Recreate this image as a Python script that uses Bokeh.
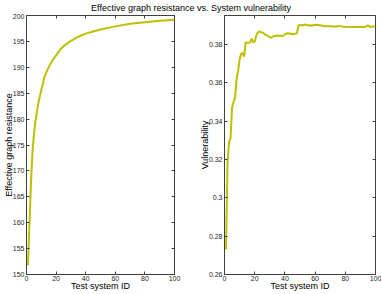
from bokeh.plotting import figure
from bokeh.models import (Range1d, FixedTicker, LinearAxis, CustomJSTickFormatter,
                          CustomLabelingPolicy)
from bokeh.layouts import column, row
from bokeh.embed import file_html
from bokeh.resources import INLINE

title_text = "Effective graph resistance vs. System vulnerability"
x_label = "Test system ID"
left_ylabel = "Effective graph resistance"
right_ylabel = "Vulnerability"

# Effective graph resistance per test system
res_ids = [1, 2, 3, 4, 5, 6, 7, 8, 9, 10, 12, 14, 16, 18, 20, 23, 26, 30, 35, 40,
           45, 50, 60, 70, 80, 90, 100]
res_values = [151.8, 159.5, 167.5, 173.5, 177.0, 179.5, 181.4, 183.0, 184.4, 185.6,
              188.0, 189.4, 190.6, 191.5, 192.3, 193.5, 194.3, 195.1, 195.9, 196.5,
              196.9, 197.3, 197.9, 198.4, 198.7, 199.0, 199.2]

# System vulnerability per test system
vul_ids = [1, 2, 3, 4, 5, 6, 7, 8, 9, 10, 11, 12, 13, 14, 15, 16, 17, 18, 19, 20,
           21, 22, 23, 24, 25, 26, 27, 28, 29, 30, 31, 32, 33, 34, 35, 36, 37, 38, 39, 40,
           41, 42, 43, 44, 45, 46, 47, 48, 49, 50, 51, 52, 53, 54, 55, 56, 57, 58, 59, 60,
           62, 64, 66, 68, 70, 72, 74, 76, 78, 80, 85, 90, 93, 95, 96, 97, 100]
vul_values = [0.273, 0.318, 0.329, 0.331, 0.347, 0.350, 0.352, 0.362, 0.366, 0.372,
              0.375, 0.3755, 0.3735, 0.381, 0.3808, 0.3808, 0.381, 0.383, 0.381, 0.3815,
              0.3845, 0.386, 0.3867, 0.3863, 0.3862, 0.3857, 0.385, 0.3847, 0.3842, 0.3838,
              0.3835, 0.384, 0.3843, 0.3844, 0.3846, 0.3844, 0.3844, 0.3843, 0.3845, 0.3852,
              0.3856, 0.3857, 0.3856, 0.3855, 0.3852, 0.3853, 0.3855, 0.3858, 0.3898, 0.3900,
              0.3898, 0.3900, 0.3903, 0.3901, 0.3899, 0.3898, 0.3899, 0.3897, 0.3900, 0.3901,
              0.3901, 0.3898, 0.3895, 0.3894, 0.3894, 0.3893, 0.3893, 0.3896, 0.3892, 0.3891,
              0.3890, 0.3890, 0.3890, 0.3898, 0.3894, 0.3890, 0.3894]

x_ticks = [0, 20, 40, 60, 80, 100]
res_ticks = [150, 155, 160, 165, 170, 175, 180, 185, 190, 195, 200]
vul_ticks = [0.26, 0.28, 0.30, 0.32, 0.34, 0.36, 0.38]

FONT = "Liberation Sans"
LINE_COLOR = "#bfbf00"
AX_COLOR = "#404040"

no_labels = CustomLabelingPolicy(code="return new Set()")
blank = CustomJSTickFormatter(code="return ''")


def style(p, xt, yt, fmt=None):
    p.xaxis.ticker = FixedTicker(ticks=xt)
    p.yaxis.ticker = FixedTicker(ticks=yt)
    if fmt is not None:
        p.yaxis.formatter = fmt
    for ax in (p.xaxis[0], p.yaxis[0]):
        ax.major_tick_in = 3
        ax.major_tick_out = 0
        ax.minor_tick_line_color = None
        ax.axis_line_color = AX_COLOR
        ax.major_tick_line_color = AX_COLOR
        ax.major_label_text_font = FONT
        ax.major_label_text_font_size = "7px"
        ax.major_label_text_color = "#262626"
        ax.axis_label_text_font = FONT
        ax.axis_label_text_font_size = "9px"
        ax.axis_label_text_font_style = "normal"
        ax.axis_label_text_color = "#000000"
    p.yaxis.major_label_standoff = 2
    p.yaxis.axis_label_standoff = -4
    p.xaxis.major_label_standoff = 1
    p.xaxis.axis_label_standoff = -3
    p.xgrid.visible = False
    p.ygrid.visible = False
    p.outline_line_color = AX_COLOR
    for loc, t in (("above", xt), ("right", yt)):
        a = LinearAxis(ticker=FixedTicker(ticks=t), major_tick_in=3, major_tick_out=0,
                       minor_tick_line_color=None, axis_line_color=None,
                       major_tick_line_color=AX_COLOR, major_label_policy=no_labels,
                       formatter=blank, major_label_standoff=0)
        p.add_layout(a, loc)


# title strip
tp = figure(width=381, height=13, x_range=Range1d(0, 1), y_range=Range1d(0, 1),
            output_backend="svg", toolbar_location=None, min_border=0,
            title=title_text)
tp.axis.visible = False
tp.grid.visible = False
tp.outline_line_color = None
tp.title.align = "center"
tp.title.text_font = FONT
tp.title.text_font_size = "9px"
tp.title.text_font_style = "normal"
tp.title.text_color = "#000000"
tp.title.standoff = 0
tp.title.offset = 0

# left: effective graph resistance
p1 = figure(width=190, height=280, x_range=Range1d(0, 100), y_range=Range1d(150, 200),
            output_backend="svg", toolbar_location=None,
            min_border_left=22, min_border_right=16, min_border_top=2, min_border_bottom=18,
            x_axis_label=x_label, y_axis_label=left_ylabel)
p1.line(res_ids, res_values, line_color=LINE_COLOR, line_width=2)
style(p1, x_ticks, res_ticks)

# right: vulnerability
fmt = CustomJSTickFormatter(code="var s = tick.toFixed(2); return s.replace(/0+$/, '');")
p2 = figure(width=191, height=280, x_range=Range1d(0, 100), y_range=Range1d(0.26, 0.395),
            output_backend="svg", toolbar_location=None,
            min_border_left=34, min_border_right=6, min_border_top=2, min_border_bottom=18,
            x_axis_label=x_label, y_axis_label=right_ylabel)
p2.line(vul_ids, vul_values, line_color=LINE_COLOR, line_width=2)
style(p2, x_ticks, vul_ticks, fmt)

layout = column(tp, row(p1, p2))
open("out.html", "w").write(file_html(layout, INLINE))
